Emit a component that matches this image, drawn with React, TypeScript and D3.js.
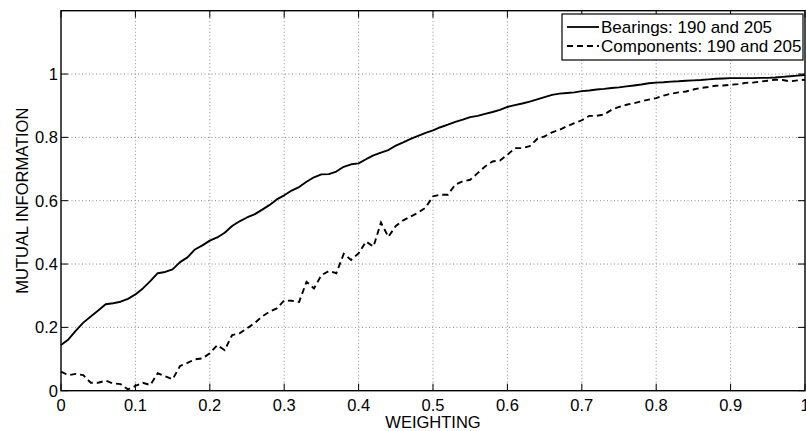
import React from "react";
import * as d3 from "d3";

const weighting = [
  0, 0.01, 0.02, 0.03, 0.04, 0.05, 0.06, 0.07, 0.08, 0.09,
  0.1, 0.11, 0.12, 0.13, 0.14, 0.15, 0.16, 0.17, 0.18, 0.19,
  0.2, 0.21, 0.22, 0.23, 0.24, 0.25, 0.26, 0.27, 0.28, 0.29,
  0.3, 0.31, 0.32, 0.33, 0.34, 0.35, 0.36, 0.37, 0.38, 0.39,
  0.4, 0.41, 0.42, 0.43, 0.44, 0.45, 0.46, 0.47, 0.48, 0.49,
  0.5, 0.51, 0.52, 0.53, 0.54, 0.55, 0.56, 0.57, 0.58, 0.59,
  0.6, 0.61, 0.62, 0.63, 0.64, 0.65, 0.66, 0.67, 0.68, 0.69,
  0.7, 0.71, 0.72, 0.73, 0.74, 0.75, 0.76, 0.77, 0.78, 0.79,
  0.8, 0.81, 0.82, 0.83, 0.84, 0.85, 0.86, 0.87, 0.88, 0.89,
  0.9, 0.91, 0.92, 0.93, 0.94, 0.95, 0.96, 0.97, 0.98, 0.99,
  1.0,
];

const bearings = [
  0.144, 0.162, 0.19, 0.215, 0.234, 0.253, 0.273, 0.276, 0.281, 0.29,
  0.304, 0.323, 0.346, 0.371, 0.375, 0.383, 0.406, 0.421, 0.446, 0.459,
  0.474, 0.484, 0.499, 0.52, 0.535, 0.547, 0.557, 0.571, 0.586, 0.604,
  0.617, 0.632, 0.643, 0.66, 0.674, 0.683, 0.684, 0.692, 0.707, 0.715,
  0.718, 0.731, 0.743, 0.752, 0.76, 0.774, 0.784, 0.795, 0.805, 0.814,
  0.822, 0.832, 0.84, 0.849, 0.856, 0.864, 0.868, 0.874, 0.88, 0.887,
  0.896, 0.902, 0.907, 0.913, 0.92, 0.927, 0.934, 0.938, 0.94, 0.942,
  0.946, 0.948, 0.951, 0.953, 0.956, 0.958, 0.961, 0.964, 0.967, 0.971,
  0.973, 0.974, 0.976, 0.977, 0.979, 0.98, 0.981, 0.983, 0.985, 0.986,
  0.987, 0.987, 0.987, 0.987, 0.988, 0.988, 0.989, 0.991, 0.993, 0.995,
  0.997,
];

const components = [
  0.06, 0.049, 0.053, 0.049, 0.025, 0.025, 0.032, 0.023, 0.021, 0.004,
  0.015, 0.025, 0.018, 0.055, 0.046, 0.036, 0.078, 0.088, 0.099, 0.102,
  0.118, 0.144, 0.128, 0.176, 0.181, 0.197, 0.213, 0.234, 0.249, 0.26,
  0.285, 0.284, 0.28, 0.344, 0.323, 0.365, 0.378, 0.371, 0.432, 0.413,
  0.434, 0.471, 0.455, 0.531, 0.486, 0.52, 0.538, 0.55, 0.562, 0.578,
  0.614, 0.619, 0.619, 0.651, 0.661, 0.666, 0.687, 0.708, 0.724, 0.727,
  0.745, 0.766, 0.766, 0.772, 0.795, 0.803, 0.816, 0.824, 0.835, 0.845,
  0.854, 0.868, 0.868, 0.872, 0.887, 0.896, 0.903, 0.908, 0.914, 0.919,
  0.924, 0.932, 0.938, 0.942, 0.945, 0.951, 0.956, 0.959, 0.963, 0.964,
  0.966, 0.968, 0.972, 0.973, 0.976, 0.979, 0.982, 0.981, 0.977, 0.98,
  0.982,
];

const xTicks = [0, 0.1, 0.2, 0.3, 0.4, 0.5, 0.6, 0.7, 0.8, 0.9, 1];
const xTickLabels = ["0", "0.1", "0.2", "0.3", "0.4", "0.5", "0.6", "0.7", "0.8", "0.9", "1"];
const yTicks = [0, 0.2, 0.4, 0.6, 0.8, 1];
const yTickLabels = ["0", "0.2", "0.4", "0.6", "0.8", "1"];
const seriesNames = ["Bearings: 190 and 205", "Components: 190 and 205"];
const xLabel = "WEIGHTING";
const yLabel = "MUTUAL INFORMATION";

const W = 806;
const H = 431;
const L = 61;
const R = 805;
const T = 10.7;
const B = 390.7;
const FONT = "'Liberation Sans', Arial, Helvetica, sans-serif";

export default function App() {
  const x = d3.scaleLinear().domain([0, 1]).range([L, R]);
  const y = d3.scaleLinear().domain([0, 1.2]).range([B, T]);
  const line = (vals: number[]) =>
    d3
      .line<number>()
      .x((_, i) => x(weighting[i]))
      .y((d) => y(d))(vals) || "";
  const tickLen = 7;
  const gridColor = "#8c8c8c";

  return (
    <svg
      width={W}
      height={H}
      style={{ position: "absolute", left: 0, top: 0, background: "#fff" }}
      fontFamily={FONT}
    >
      <rect x={0} y={0} width={W} height={H} fill="#fff" />
      {xTicks.slice(1, -1).map((t) => (
        <line
          key={"gx" + t}
          x1={x(t)}
          x2={x(t)}
          y1={T}
          y2={B}
          stroke={gridColor}
          strokeWidth={1}
          strokeDasharray="1 2.5"
        />
      ))}
      {yTicks.slice(1).map((t) => (
        <line
          key={"gy" + t}
          x1={L}
          x2={R}
          y1={y(t)}
          y2={y(t)}
          stroke={gridColor}
          strokeWidth={1}
          strokeDasharray="1 2.5"
        />
      ))}
      {xTicks.map((t) => (
        <g key={"tx" + t}>
          <line x1={x(t)} x2={x(t)} y1={B} y2={B - tickLen} stroke="#000" strokeWidth={1} />
          <line x1={x(t)} x2={x(t)} y1={T} y2={T + tickLen} stroke="#000" strokeWidth={1} />
        </g>
      ))}
      {yTicks.map((t) => (
        <g key={"ty" + t}>
          <line x1={L} x2={L + tickLen} y1={y(t)} y2={y(t)} stroke="#000" strokeWidth={1} />
          <line x1={R} x2={R - tickLen} y1={y(t)} y2={y(t)} stroke="#000" strokeWidth={1} />
        </g>
      ))}
      <path d={line(bearings)} fill="none" stroke="#000" strokeWidth={1.9} strokeLinejoin="round" />
      <path
        d={line(components)}
        fill="none"
        stroke="#000"
        strokeWidth={1.9}
        strokeDasharray="6 4"
      />
      <rect x={L} y={T} width={R - L} height={B - T} fill="none" stroke="#000" strokeWidth={1.4} />
      {xTicks.map((t, i) => (
        <text key={"lx" + t} x={x(t)} y={411} textAnchor="middle" fontSize={16.5} fill="#000">
          {xTickLabels[i]}
        </text>
      ))}
      {yTicks.map((t, i) => (
        <text
          key={"ly" + t}
          x={58}
          y={y(t) + 6}
          textAnchor="end"
          fontSize={16.5}
          fill="#000"
        >
          {yTickLabels[i]}
        </text>
      ))}
      <text x={x(0.5)} y={428} textAnchor="middle" fontSize={16.5} fill="#000">
        {xLabel}
      </text>
      <text
        transform={`translate(28, ${(T + B) / 2}) rotate(-90)`}
        textAnchor="middle"
        fontSize={16.5}
        fill="#000"
      >
        {yLabel}
      </text>
      <g>
        <rect x={562} y={14} width={241} height={46} fill="#fff" stroke="#000" strokeWidth={1.2} />
        <line x1={567} x2={599} y1={27} y2={27} stroke="#000" strokeWidth={1.8} />
        <line x1={567} x2={599} y1={46} y2={46} stroke="#000" strokeWidth={1.8} strokeDasharray="6 4" />
        <text x={601} y={33} fontSize={17} fill="#000">
          {seriesNames[0]}
        </text>
        <text x={601} y={52} fontSize={17} fill="#000">
          {seriesNames[1]}
        </text>
      </g>
    </svg>
  );
}
